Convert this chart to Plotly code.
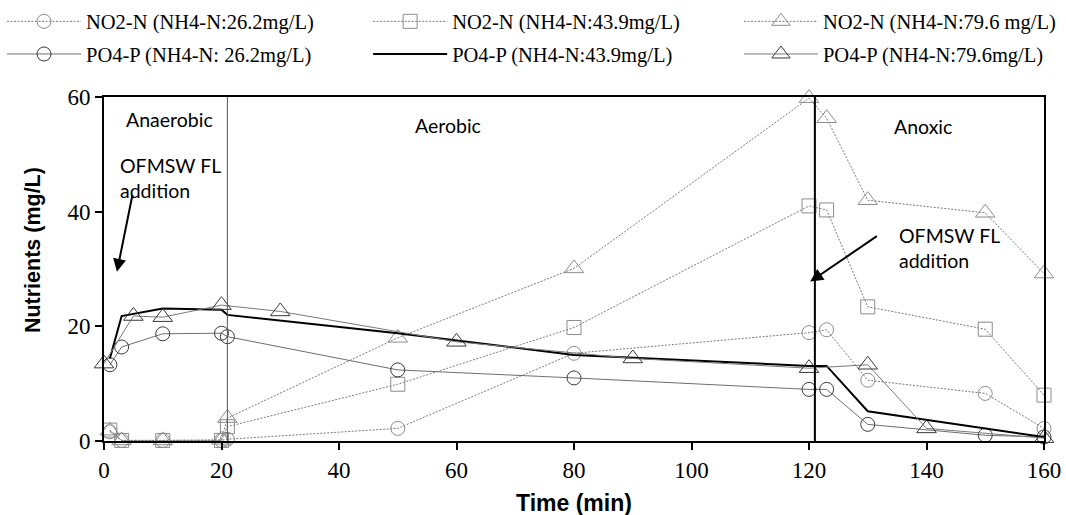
import plotly.graph_objects as go

# ---- data (time in min, nutrients in mg/L) ----
t_no2 = [1, 3, 10, 20, 21, 50, 80, 120, 123, 130, 150, 160]
no2_26 = [1.6, 0.1, 0.1, 0.1, 0.3, 2.2, 15.3, 18.9, 19.4, 10.6, 8.3, 2.2]
no2_44 = [1.9, 0.1, 0.1, 0.1, 2.5, 9.9, 19.8, 41.0, 40.3, 23.4, 19.5, 8.0]
no2_80 = [1.8, 0.1, 0.1, 0.2, 4.0, 18.0, 30.1, 59.8, 56.3, 42.0, 39.8, 29.2]

t_po4_26 = [1, 3, 10, 20, 21, 50, 80, 120, 123, 130, 150, 160]
po4_26 = [13.3, 16.4, 18.7, 18.8, 18.2, 12.4, 11.0, 9.0, 9.0, 2.9, 1.0, 0.7]

t_po4_44 = [1, 3, 10, 20, 21, 50, 80, 120, 123, 130, 160]
po4_44 = [14.4, 21.8, 23.1, 22.9, 22.0, 18.8, 15.0, 13.1, 13.1, 5.2, 0.7]

t_po4_80 = [0, 5, 10, 20, 30, 60, 90, 120, 130, 140, 160]
po4_80 = [13.5, 21.8, 21.6, 23.7, 22.6, 17.3, 14.4, 12.7, 13.3, 2.2, 0.5]

names = [
    "NO2-N (NH4-N:26.2mg/L)", "NO2-N (NH4-N:43.9mg/L)", "NO2-N (NH4-N:79.6 mg/L)",
    "PO4-P (NH4-N: 26.2mg/L)", "PO4-P (NH4-N:43.9mg/L)", "PO4-P (NH4-N:79.6mg/L)",
]
phase_labels = ["Anaerobic", "Aerobic", "Anoxic"]
phase_x = [11.1, 58.6, 139.4]
phase_y = [56.0, 55.1, 54.8]
phase_boundaries = [21, 121]
x_ticks = [0, 20, 40, 60, 80, 100, 120, 140, 160]
y_ticks = [0, 20, 40, 60]
x_title = "Time (min)"
y_title = "Nutrients (mg/L)"
note = "OFMSW FL<br>addition"

fig = go.Figure()

dot_line = dict(color="#7a7a7a", width=1, dash="2px,1.5px")


def no2_marker(sym, s):
    return dict(symbol=sym, size=s, color="#8c8c8c", line=dict(color="#8c8c8c", width=1))


def po4_marker(sym, s):
    return dict(symbol=sym, size=s, color="#3a3a3a", line=dict(color="#3a3a3a", width=1))


fig.add_trace(go.Scatter(x=t_no2, y=no2_26, name=names[0], mode="lines+markers",
                         line=dot_line, marker=no2_marker("circle-open", 14),
                         cliponaxis=False, legend="legend", legendgroup="a"))
fig.add_trace(go.Scatter(x=t_no2, y=no2_44, name=names[1], mode="lines+markers",
                         line=dot_line, marker=no2_marker("square-open", 14),
                         cliponaxis=False, legend="legend2", legendgroup="b"))
fig.add_trace(go.Scatter(x=t_no2, y=no2_80, name=names[2], mode="lines+markers",
                         line=dot_line, marker=no2_marker("triangle-up-open", 17),
                         cliponaxis=False, legend="legend3", legendgroup="c"))

fig.add_trace(go.Scatter(x=t_po4_26, y=po4_26, name=names[3], mode="lines+markers",
                         line=dict(color="#6e6e6e", width=1),
                         marker=po4_marker("circle-open", 14),
                         cliponaxis=False, legend="legend", legendgroup="d"))
fig.add_trace(go.Scatter(x=t_po4_44, y=po4_44, name=names[4], mode="lines",
                         line=dict(color="#000000", width=2),
                         cliponaxis=False, legend="legend2", legendgroup="e"))
fig.add_trace(go.Scatter(x=t_po4_80, y=po4_80, name=names[5], mode="lines+markers",
                         line=dict(color="#7a7a7a", width=1),
                         marker=po4_marker("triangle-up-open", 17),
                         cliponaxis=False, legend="legend3", legendgroup="f"))

# phase boundary lines
fig.add_shape(type="line", x0=phase_boundaries[0], x1=phase_boundaries[0], y0=0, y1=60,
              xref="x", yref="y", line=dict(color="#555555", width=1))
fig.add_shape(type="line", x0=phase_boundaries[1], x1=phase_boundaries[1], y0=0, y1=60,
              xref="x", yref="y", line=dict(color="#000000", width=2))

ann_font = dict(family="Lato, Carlito, sans-serif", size=19.5, color="#000000")
for lbl, px, py in zip(phase_labels, phase_x, phase_y):
    fig.add_annotation(x=px, y=py, text=lbl, showarrow=False, font=ann_font,
                       xref="x", yref="y")

fig.add_annotation(x=2.4, y=45.9, text=note, showarrow=False,
                   font=ann_font, xref="x", yref="y", xanchor="left", align="left")
fig.add_annotation(x=2.2, y=29.5, ax=4.9, ay=43.2, axref="x", ayref="y", xref="x", yref="y",
                   text="", showarrow=True, arrowhead=2, arrowsize=1.3, arrowwidth=2,
                   arrowcolor="#000000")
fig.add_annotation(x=135.0, y=33.7, text=note, showarrow=False,
                   font=ann_font, xref="x", yref="y", xanchor="left", align="left")
fig.add_annotation(x=120.2, y=27.8, ax=131.8, ay=35.9, axref="x", ayref="y", xref="x", yref="y",
                   text="", showarrow=True, arrowhead=2, arrowsize=1.3, arrowwidth=2,
                   arrowcolor="#000000")

# axis titles
fig.add_annotation(x=0.5, y=-0.18, xref="paper", yref="paper", text="<b>%s</b>" % x_title,
                   showarrow=False, xanchor="center", yanchor="middle",
                   font=dict(family="Liberation Sans, Arial, sans-serif", size=23, color="#000"))
fig.add_annotation(x=-0.0755, y=0.555, xref="paper", yref="paper", text="<b>%s</b>" % y_title,
                   showarrow=False, textangle=-90, xanchor="center", yanchor="middle",
                   font=dict(family="Liberation Sans, Arial, sans-serif", size=21.5, color="#000"))

axis_font = dict(family="Liberation Serif, Times New Roman, serif", size=23, color="#000000")

fig.update_xaxes(range=[0, 160], tickvals=x_ticks, ticks="outside", ticklen=7, tickwidth=2,
                 tickcolor="#000", showline=True, linecolor="#000", linewidth=2, mirror=True,
                 showgrid=False, zeroline=False, tickfont=axis_font, automargin=False)
fig.update_yaxes(range=[0, 60], tickvals=y_ticks, ticks="outside", ticklen=7, tickwidth=2,
                 tickcolor="#000", showline=True, linecolor="#000", linewidth=2, mirror=True,
                 showgrid=False, zeroline=False, tickfont=axis_font, automargin=False)

leg_font = dict(family="Liberation Serif, Times New Roman, serif", size=20.5, color="#000")
leg_common = dict(orientation="v", yanchor="top", xanchor="left", y=1.2776,
                  itemwidth=74, font=leg_font, tracegroupgap=3,
                  bgcolor="rgba(0,0,0,0)", borderwidth=0)

fig.update_layout(
    width=1066, height=515,
    margin=dict(l=104, r=22, t=97, b=74, autoexpand=False),
    paper_bgcolor="white", plot_bgcolor="white",
    showlegend=True,
    legend=dict(x=-0.1085, **leg_common),
    legend2=dict(x=0.281, **leg_common),
    legend3=dict(x=0.6755, **leg_common),
)

# remove the default page margin so the figure fills the window exactly
fig.write_html(
    "out.html",
    config={"displayModeBar": False},
    post_script="document.body.style.margin='0';"
                "document.documentElement.style.overflow='hidden';",
)
